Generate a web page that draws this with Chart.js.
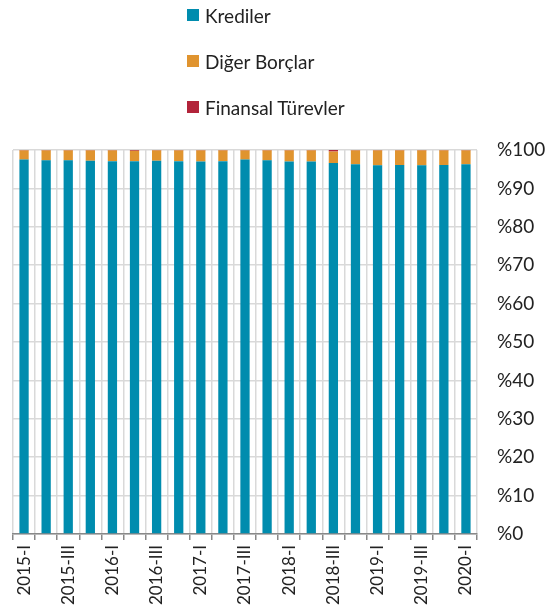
<!DOCTYPE html>
<html>
<head>
<meta charset="utf-8">
<script src="https://cdn.jsdelivr.net/npm/chart.js@4"></script>
<style>
  body { margin: 0; background: #fff; }
  #wrap { position: relative; width: 553px; height: 610px; }
  #legend { position: absolute; left: 187px; top: 2px; font-family: Lato, "Open Sans", sans-serif; font-size: 19px; color: #222; }
  #legend div { display: flex; align-items: center; height: 26px; margin-bottom: 20px; }
  #legend span.box { display: inline-block; width: 12px; height: 12px; margin-right: 6px; }
</style>
</head>
<body>
<div id="wrap">
  <canvas id="chart"></canvas>
  <div id="legend"></div>
</div>
<script>
const categories = [
  "2015-I", "2015-II", "2015-III", "2015-IV",
  "2016-I", "2016-II", "2016-III", "2016-IV",
  "2017-I", "2017-II", "2017-III", "2017-IV",
  "2018-I", "2018-II", "2018-III", "2018-IV",
  "2019-I", "2019-II", "2019-III", "2019-IV",
  "2020-I"
];
const krediler = [97.5, 97.3, 97.3, 97.2, 97.1, 97.1, 97.2, 97.1, 97.0, 97.1, 97.5, 97.3, 97.0, 97.0, 96.6, 96.3, 96.0, 96.1, 96.0, 96.1, 96.3];
const digerBorclar = [2.4, 2.6, 2.6, 2.7, 2.8, 2.7, 2.7, 2.8, 2.9, 2.8, 2.4, 2.6, 2.9, 2.9, 3.0, 3.6, 3.9, 3.8, 3.9, 3.8, 3.6];
const finansalTurevler = [0.1, 0.1, 0.1, 0.1, 0.1, 0.2, 0.1, 0.1, 0.1, 0.1, 0.1, 0.1, 0.1, 0.1, 0.4, 0.1, 0.1, 0.1, 0.1, 0.1, 0.1];
const yTicks = [0, 10, 20, 30, 40, 50, 60, 70, 80, 90, 100];

const font = { family: "Lato, 'Open Sans', sans-serif" };
const grid = "#d9d9d9";

const chart = new Chart(document.getElementById("chart"), {
  type: "bar",
  data: {
    labels: categories,
    datasets: [
      { label: "Krediler", data: krediler, backgroundColor: "#008CAE" },
      { label: "Diğer Borçlar", data: digerBorclar, backgroundColor: "#E0942F" },
      { label: "Finansal Türevler", data: finansalTurevler, backgroundColor: "#B2243A" }
    ]
  },
  options: {
    responsive: true,
    maintainAspectRatio: false,
    animation: false,
    datasets: { bar: { barPercentage: 0.42, categoryPercentage: 1 } },
    layout: { padding: { top: 150, left: 13, right: 0, bottom: 0 } },
    plugins: { legend: { display: false }, tooltip: { enabled: false } },
    scales: {
      x: {
        stacked: true,
        afterFit: (axis) => { axis.height = 76; },
        grid: { offset: true, color: grid, lineWidth: 1.5, tickLength: 6, tickColor: "#888" },
        border: { color: "#888", width: 1.5 },
        ticks: {
          autoSkip: false,
          maxRotation: 90,
          minRotation: 90,
          padding: 5,
          color: "#222",
          font: { ...font, size: 17 },
          callback: (v, i) => (i % 2 === 0 ? categories[i] : "")
        }
      },
      y: {
        stacked: true,
        position: "right",
        min: 0,
        max: 100,
        afterBuildTicks: (axis) => { axis.ticks = yTicks.map((v) => ({ value: v })); },
        afterFit: (axis) => { axis.width = 76; },
        grid: { color: grid, lineWidth: 1.5, drawTicks: false },
        border: { display: false },
        ticks: {
          padding: 20,
          color: "#222",
          font: { ...font, size: 19 },
          callback: (v) => "%" + v
        }
      }
    }
  }
});

const legendRoot = document.getElementById("legend");
chart.data.datasets.forEach((ds) => {
  const row = document.createElement("div");
  row.innerHTML = `<span class="box" style="background:${ds.backgroundColor}"></span>${ds.label}`;
  legendRoot.appendChild(row);
});
</script>
</body>
</html>
